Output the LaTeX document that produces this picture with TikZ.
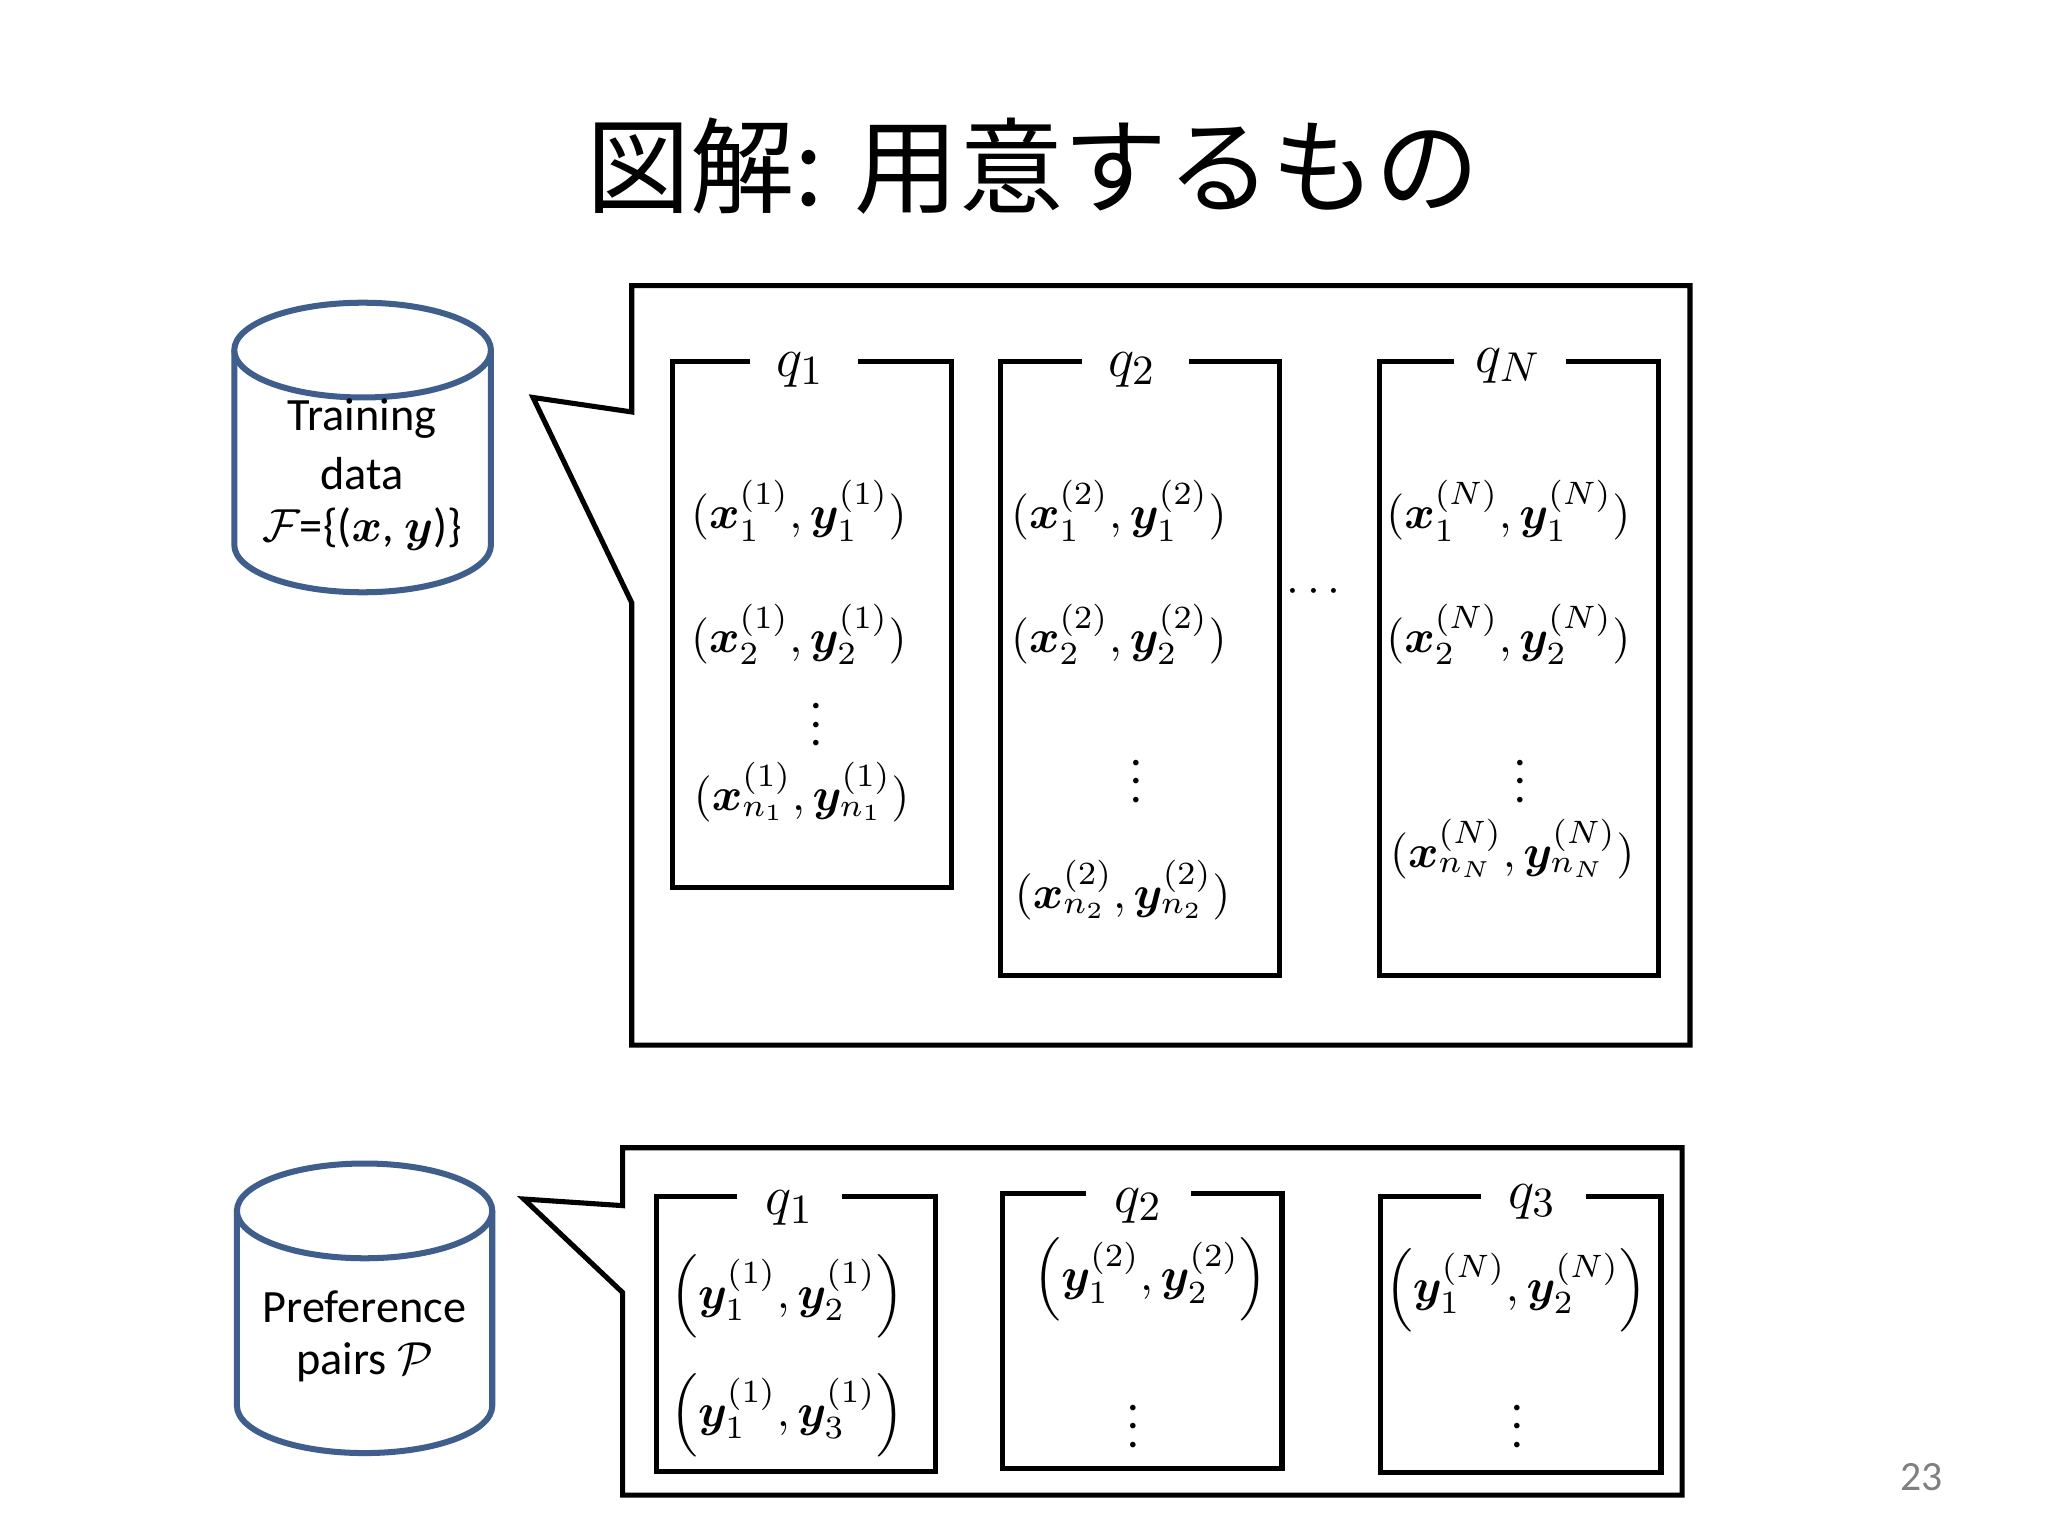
\documentclass[tikz,border=0pt]{standalone}
\usepackage{amsmath,bm}
\usepackage{fontspec}
\setmainfont{Carlito}
\newfontfamily\cjk{Noto Sans CJK JP}
\begin{document}
\begin{tikzpicture}[x=0.01cm,y=-0.01cm,
  cyl/.style={draw=cylblue,line width=1.3pt,fill=white},
  box/.style={draw=black,line width=1.1pt},
  lbl/.style={inner sep=0pt,font=\fontsize{13}{15}\selectfont},
  ent/.style={inner sep=0pt,font=\fontsize{10}{12}\selectfont},
  ctext/.style={inner sep=0pt,font=\fontsize{10}{12}\selectfont}]
\definecolor{cylblue}{HTML}{3F5E8C}
\useasboundingbox (0,0) rectangle (1556,1167);
\fill[white] (0,0) rectangle (1556,1167);
\node[inner sep=0pt,font=\cjk\fontsize{22.5}{26}\selectfont] (title) at (785,126) {図解: 用意するもの};
% cylinder 1
\draw[cyl] (178,266) -- (178,414) arc[start angle=180,end angle=0,x radius=97.5,y radius=36] -- (373,266);
\draw[cyl] (275.5,266) ellipse[x radius=97.5,y radius=36];
\node[ctext] (t1) at (275,318) {Training};
\node[ctext] (t2) at (275,360) {data};
\node[ctext] (t3) at (275,402) {$\mathcal{F}$=\{($\bm{x}$, $\bm{y}$)\}};
% callout 1
\draw[box,line join=miter] (480,313) -- (480,217) -- (1284,217) -- (1284,794) -- (480,794) -- (480,458) -- (405,302) -- cycle;
% box1
\draw[box] (570,275) -- (511,275) -- (511,674) -- (723,674) -- (723,275) -- (652,275);
\node[lbl] (a0) at (608,281) {$q_1$};
\node[ent] (a1) at (607,388) {$(\bm{x}_1^{(1)},\bm{y}_1^{(1)})$};
\node[ent] (a2) at (607,482) {$(\bm{x}_2^{(1)},\bm{y}_2^{(1)})$};
\node[ent] (a3) at (620,540) {$\vdots$};
\node[ent] (a4) at (609,602) {$(\bm{x}_{n_1}^{(1)},\bm{y}_{n_1}^{(1)})$};
% box2
\draw[box] (822,275) -- (760,275) -- (760,741) -- (972,741) -- (972,275) -- (903,275);
\node[lbl] (b0) at (860,281) {$q_2$};
\node[ent] (b1) at (850,388) {$(\bm{x}_1^{(2)},\bm{y}_1^{(2)})$};
\node[ent] (b2) at (850,482) {$(\bm{x}_2^{(2)},\bm{y}_2^{(2)})$};
\node[ent] (b3) at (863,583) {$\vdots$};
\node[ent] (b4) at (853,676) {$(\bm{x}_{n_2}^{(2)},\bm{y}_{n_2}^{(2)})$};
\node[ent] (dots) at (1001,450) {$\cdots$};
% box3
\draw[box] (1105,275) -- (1048,275) -- (1048,741) -- (1260,741) -- (1260,275) -- (1190,275);
\node[lbl] (c0) at (1146,278) {$q_N$};
\node[ent] (c1) at (1146,388) {$(\bm{x}_1^{(N)},\bm{y}_1^{(N)})$};
\node[ent] (c2) at (1146,482) {$(\bm{x}_2^{(N)},\bm{y}_2^{(N)})$};
\node[ent] (c3) at (1155,583) {$\vdots$};
\node[ent] (c4) at (1149,645) {$(\bm{x}_{n_N}^{(N)},\bm{y}_{n_N}^{(N)})$};
% cylinder 2
\draw[cyl] (180,920) -- (180,1068) arc[start angle=180,end angle=0,x radius=97,y radius=36] -- (374,920);
\draw[cyl] (277,920) ellipse[x radius=97,y radius=36];
\node[ctext] (p1) at (277,993) {Preference};
\node[ctext] (p2) at (277,1035) {pairs $\mathcal{P}$};
% callout 2
\draw[box,line join=miter] (473,916) -- (473,872) -- (1278,872) -- (1278,1136) -- (473,1136) -- (473,982) -- (398,911) -- cycle;
% bottom boxes
\draw[box] (560,909) -- (499,909) -- (499,1118) -- (711,1118) -- (711,909) -- (640,909);
\node[lbl] (d0) at (600,918) {$q_1$};
\node[ent] (d1) at (598,985) {$\left(\bm{y}_1^{(1)},\bm{y}_2^{(1)}\right)$};
\node[ent] (d2) at (598,1075) {$\left(\bm{y}_1^{(1)},\bm{y}_3^{(1)}\right)$};
\draw[box] (825,907) -- (762,907) -- (762,1116) -- (974,1116) -- (974,907) -- (905,907);
\node[lbl] (e0) at (865,916) {$q_2$};
\node[ent] (e1) at (874,972) {$\left(\bm{y}_1^{(2)},\bm{y}_2^{(2)}\right)$};
\node[ent] (e2) at (861,1073) {$\vdots$};
\draw[box] (1125,909) -- (1049,909) -- (1049,1119) -- (1262,1119) -- (1262,909) -- (1205,909);
\node[lbl] (f0) at (1164,913) {$q_3$};
\node[ent] (f1) at (1152,980) {$\left(\bm{y}_1^{(N)},\bm{y}_2^{(N)}\right)$};
\node[ent] (f2) at (1153,1073) {$\vdots$};
\node[inner sep=0pt,text=gray,font=\fontsize{9}{11}\selectfont] (pg) at (1460,1122) {23};
\end{tikzpicture}
\end{document}
